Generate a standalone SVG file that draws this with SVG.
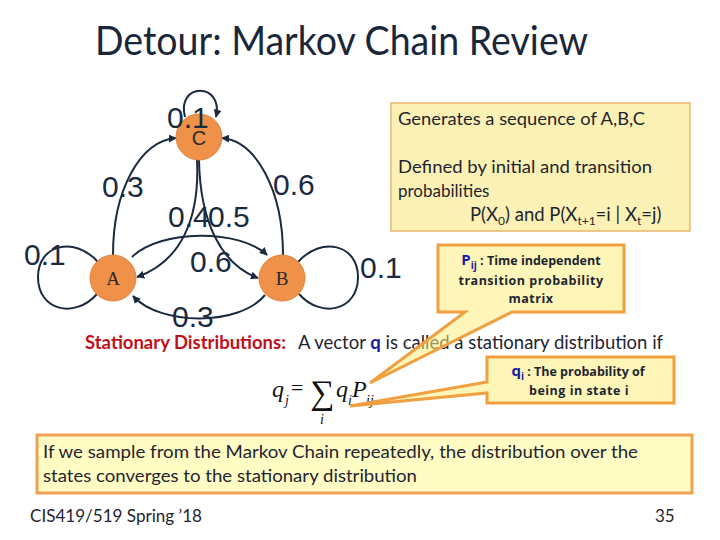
<svg xmlns="http://www.w3.org/2000/svg" width="720" height="540" viewBox="0 0 720 540">
<style>
.edge{fill:none;stroke:#1b2a3f;stroke-width:2}
.lbl{font-family:"Liberation Sans",Arial,sans-serif;font-size:30px;fill:#1b2a3f}
.node{fill:#f0914a;stroke:#e0803a;stroke-width:1}
.nt{font-family:"Liberation Serif","Times New Roman",serif;font-size:19px;fill:#2a2a2a;text-anchor:middle}
.body{font-family:Lato,"Open Sans",sans-serif;fill:#1f2530}
.call{font-family:"Open Sans",Lato,sans-serif;font-weight:bold;font-size:12.5px;fill:#1f2530;text-anchor:middle}
.blue{fill:#1a1aa0}
.math{font-family:"Liberation Serif","Times New Roman",serif;fill:#111;font-style:italic}
.cbox{fill:#fbef7e;fill-opacity:0.55;stroke:#f0a040;stroke-width:3;stroke-linejoin:miter}
</style>
<defs>
<marker id="arr" viewBox="0 0 10 10" refX="9" refY="5" markerWidth="4" markerHeight="4" orient="auto" markerUnits="strokeWidth">
<path d="M0,0 L10,5 L0,10 z" fill="#1b2a3f"/>
</marker>
</defs>
<rect width="720" height="540" fill="#ffffff"/>
<text x="95" y="55" font-family="Lato,'Open Sans',sans-serif" font-size="40" fill="#1a2639" textLength="493" lengthAdjust="spacingAndGlyphs">Detour: Markov Chain Review</text>

<g id="connectors">
<path class="edge" marker-end="url(#arr)" d="M185,117 C176,82 224,82 216,117"/>
<path class="edge" marker-end="url(#arr)" d="M113,255 C113,190 140,141 176,138"/>
<path class="edge" marker-end="url(#arr)" d="M283,255 C283,190 256,141 222,138"/>
<path class="edge" marker-end="url(#arr)" d="M197,160 C200,220 180,262 137,277"/>
<path class="edge" marker-end="url(#arr)" d="M199,160 C200,220 220,264 258,278"/>
<path class="edge" marker-end="url(#arr)" d="M132,257 C160,229 240,229 267,255"/>
<path class="edge" marker-end="url(#arr)" d="M265,295 C240,326 160,326 133,296"/>
<path class="edge" d="M98,262 C75,236 38,244 38,277 C38,311 75,319 97,294"/>
<path class="edge" d="M298,262 C321,236 358,244 358,277 C358,311 321,319 299,294"/>
</g>

<g id="nodeC"><circle class="node" cx="199" cy="137" r="23"/><text x="199" y="145" font-family="'Liberation Sans',sans-serif" font-size="20" fill="#2a2a2a" text-anchor="middle">C</text></g>
<g id="nodeA"><circle class="node" cx="113" cy="278" r="23"/><text class="nt" x="113" y="285">A</text></g>
<g id="nodeB"><circle class="node" cx="282" cy="278" r="23"/><text class="nt" x="282" y="285">B</text></g>

<g id="labels">
<text class="lbl" x="167" y="128">0.1</text>
<text class="lbl" x="102" y="197">0.3</text>
<text class="lbl" x="273" y="195">0.6</text>
<text class="lbl" x="168" y="227">0.4</text>
<text class="lbl" x="208" y="227">0.5</text>
<text class="lbl" x="190" y="272">0.6</text>
<text class="lbl" x="24" y="265">0.1</text>
<text class="lbl" x="360" y="278">0.1</text>
<text class="lbl" x="172" y="327">0.3</text>
</g>

<g id="info">
<rect x="391" y="103" width="299" height="128" fill="#fcf1b4" stroke="#e8b86d" stroke-width="1.5"/>
<text class="body" font-size="17" x="398" y="125" textLength="247" lengthAdjust="spacingAndGlyphs">Generates a sequence of A,B,C</text>
<text class="body" font-size="17" x="398" y="173" textLength="254" lengthAdjust="spacingAndGlyphs">Defined by initial and transition</text>
<text class="body" font-size="17" x="398" y="197">probabilities</text>
<text class="body" font-size="18.5" x="470" y="221">P(X<tspan font-size="12" dy="4">0</tspan><tspan dy="-4">) and P(X</tspan><tspan font-size="12" dy="4">t+1</tspan><tspan dy="-4">=i | X</tspan><tspan font-size="12" dy="4">t</tspan><tspan dy="-4">=j)</tspan></text>
</g>

<g id="stationary">
<text font-family="Lato,'Open Sans',sans-serif" font-size="18.5" x="85" y="349"><tspan font-weight="bold" fill="#c0101a">Stationary Distributions:</tspan><tspan fill="#1f2530" x="298">A vector </tspan><tspan font-weight="bold" class="blue">q</tspan><tspan fill="#1f2530"> is called a stationary distribution if</tspan></text>
<text class="math" font-size="24" x="272" y="397">q</text>
<text class="math" font-size="14" x="285" y="405">j</text>
<text font-family="'Liberation Serif',serif" font-size="22" x="291" y="395" fill="#111">=</text>
<text font-family="'Liberation Serif',serif" font-size="34" x="310" y="404" fill="#111">∑</text>
<text class="math" font-size="14" x="320" y="424">i</text>
<text class="math" font-size="24" x="336" y="397">q</text>
<text class="math" font-size="14" x="348" y="405">i</text>
<text class="math" font-size="24" x="352" y="397">P</text>
<text class="math" font-size="14" x="366" y="405">ij</text>
</g>

<g id="callPij">
<path class="cbox" d="M438,245 H624 V312 H512 L370,383 L465,312 H438 Z"/>
<text class="call" x="531" y="265"><tspan class="blue" font-size="15">P</tspan><tspan class="blue" font-size="10" dy="4">ij</tspan><tspan dy="-4"> : Time independent</tspan></text>
<text class="call" x="531" y="285" letter-spacing="0.5">transition probability</text>
<text class="call" x="531" y="303" letter-spacing="0.5">matrix</text>
</g>

<g id="callQi">
<path class="cbox" d="M487,357 H674 V403 H487 V393 L350,406 L487,382 Z"/>
<text class="call" x="578" y="376"><tspan class="blue" font-size="15">q</tspan><tspan class="blue" font-size="10" dy="4">i</tspan><tspan dy="-4"> : The probability of</tspan></text>
<text class="call" x="579" y="395" letter-spacing="0.5">being in state i</text>
</g>

<g id="summary">
<rect x="37" y="435" width="655" height="58" fill="#fffcc4" stroke="#f0a050" stroke-width="3"/>
<text class="body" font-size="18" x="43" y="458" textLength="595" lengthAdjust="spacingAndGlyphs">If we sample from the Markov Chain repeatedly, the distribution over the</text>
<text class="body" font-size="18" x="43" y="482" textLength="374" lengthAdjust="spacingAndGlyphs">states converges to the stationary distribution</text>
</g>

<text class="body" font-size="17" x="30" y="522" textLength="172" lengthAdjust="spacingAndGlyphs">CIS419/519 Spring ’18</text>
<text class="body" font-size="17" x="655" y="522">35</text>
</svg>
